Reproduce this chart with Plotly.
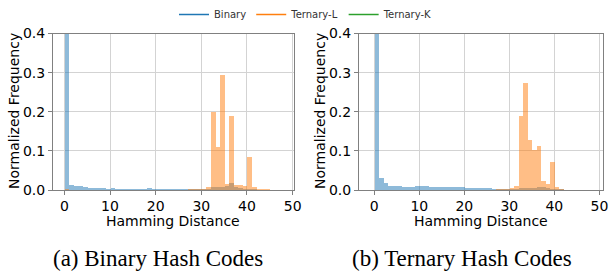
import plotly.graph_objects as go

# ---- data (normalized frequency per Hamming-distance bin, bins [k, k+1)) ----
bins = list(range(0, 50))

# (a) Binary hash codes
a_binary = [0.80, 0.014, 0.012, 0.012, 0.008, 0.007, 0.007, 0.006, 0.006, 0.005,
            0.006, 0.005, 0.005, 0.004, 0.004, 0.005, 0.004, 0.005, 0.006, 0.004,
            0.004, 0.004, 0.004, 0.003, 0.004, 0.004, 0.005, 0.003, 0.003, 0.003,
            0.004, 0.005, 0.010, 0.008, 0.010, 0.012, 0.020, 0.008, 0.006, 0.004,
            0.003, 0.002, 0.001, 0, 0, 0, 0, 0, 0, 0]
a_ternary_l = [0.005, 0, 0, 0, 0, 0, 0, 0, 0, 0,
               0, 0, 0, 0, 0, 0, 0, 0, 0, 0,
               0, 0, 0, 0, 0, 0, 0.001, 0.002, 0.003, 0.004,
               0.005, 0.010, 0.200, 0.110, 0.296, 0.017, 0.191, 0.014, 0.013, 0.012,
               0.085, 0.010, 0.005, 0.003, 0.002, 0, 0, 0, 0, 0]
a_ternary_k = [0] * 50

# (b) Ternary hash codes
b_binary = [0.80, 0.031, 0.018, 0.012, 0.011, 0.011, 0.010, 0.010, 0.010, 0.011,
            0.011, 0.011, 0.008, 0.008, 0.009, 0.008, 0.009, 0.008, 0.009, 0.010,
            0.006, 0.007, 0.006, 0.006, 0.006, 0.006, 0.005, 0.004, 0.004, 0.005,
            0.005, 0.005, 0.006, 0.007, 0.006, 0.006, 0.008, 0.010, 0.006, 0.004,
            0.003, 0.002, 0, 0, 0, 0, 0, 0, 0, 0]
b_ternary_l = [0, 0, 0, 0, 0, 0, 0, 0, 0, 0,
               0, 0, 0, 0, 0, 0, 0, 0, 0, 0,
               0, 0, 0, 0, 0, 0, 0.001, 0.002, 0.003, 0.004,
               0.006, 0.012, 0.191, 0.275, 0.130, 0.104, 0.114, 0.024, 0.017, 0.074,
               0.0085, 0.002, 0, 0, 0, 0, 0, 0, 0, 0]
b_ternary_k = [0] * 50

series_names = ["Binary", "Ternary-L", "Ternary-K"]
colors = ["#1f77b4", "#ff7f0e", "#2ca02c"]
y_ticks = [0.0, 0.1, 0.2, 0.3, 0.4]
x_ticks = [0, 10, 20, 30, 40, 50]
captions = ["(a) Binary Hash Codes", "(b) Ternary Hash Codes"]

W, H = 612, 272
fig = go.Figure()

centers = [b + 0.5 for b in bins]
panels = [(a_binary, a_ternary_l, a_ternary_k), (b_binary, b_ternary_l, b_ternary_k)]
for p, data in enumerate(panels):
    xa = "x" if p == 0 else "x2"
    ya = "y" if p == 0 else "y2"
    for vals, c in zip(data, colors):
        fig.add_trace(go.Bar(x=centers, y=vals, width=1.0, xaxis=xa, yaxis=ya,
                             marker=dict(color=c, line=dict(width=0)),
                             opacity=0.5, showlegend=False, hoverinfo="skip"))

# legend entries as lines
for name, c in zip(series_names, colors):
    fig.add_trace(go.Scatter(x=[None], y=[None], mode="lines", name=name,
                             line=dict(color=c, width=1.5), xaxis="x", yaxis="y"))

def px_x(v):
    return v / W

def px_y(v):
    return 1 - v / H

axis_common = dict(showline=True, linecolor="#808080", linewidth=1, mirror=True,
                   showgrid=True, gridcolor="#d3d3d3", gridwidth=1,
                   ticks="outside", ticklen=3.5, tickcolor="#808080",
                   tickfont=dict(family="DejaVu Sans", size=14, color="black"),
                   zeroline=False, automargin=False)

fig.update_layout(
    width=W, height=H,
    margin=dict(l=0, r=0, t=0, b=0, autoexpand=False),
    paper_bgcolor="white", plot_bgcolor="white",
    barmode="overlay", bargap=0,
    xaxis=dict(domain=[px_x(52.5), px_x(294)], range=[-2.6, 50.3],
               tickvals=x_ticks, anchor="y", **axis_common),
    yaxis=dict(domain=[px_y(190), px_y(33.5)], range=[0, 0.4],
               tickvals=y_ticks, tickformat=".1f", anchor="x", **axis_common),
    xaxis2=dict(domain=[px_x(358.5), px_x(603)], range=[-3.5, 50.8],
                tickvals=x_ticks, anchor="y2", **axis_common),
    yaxis2=dict(domain=[px_y(190), px_y(33.5)], range=[0, 0.4],
                tickvals=y_ticks, tickformat=".1f", anchor="x2", **axis_common),
    legend=dict(orientation="h", x=0.5, xanchor="center", y=1.0, yanchor="top",
                font=dict(family="DejaVu Sans", size=10, color="#333333"),
                itemwidth=30, bgcolor="rgba(0,0,0,0)"),
    font=dict(family="DejaVu Sans"),
)

annotations = []
for xc_ax in [(52.5 + 294) / 2, (358.5 + 603) / 2]:
    annotations.append(dict(text="Hamming Distance", x=px_x(xc_ax), y=px_y(221),
                            xref="paper", yref="paper", showarrow=False,
                            xanchor="center", yanchor="middle",
                            font=dict(family="DejaVu Sans", size=14, color="black")))
for cap, xc in zip(captions, [158, 462]):
    annotations.append(dict(text=cap, x=px_x(xc), y=px_y(258),
                            xref="paper", yref="paper", showarrow=False,
                            xanchor="center", yanchor="middle",
                            font=dict(family="Liberation Serif", size=23, color="black")))
for xl in [14, 320]:
    annotations.append(dict(text="Normalized Frequency", x=px_x(xl), y=px_y(111),
                            xref="paper", yref="paper", showarrow=False, textangle=-90,
                            xanchor="center", yanchor="middle",
                            font=dict(family="DejaVu Sans", size=14, color="black")))
fig.update_layout(annotations=annotations)

fig.write_html("out.html", config={"displayModeBar": False},
               post_script="document.body.style.margin='0';document.body.style.overflow='hidden';")
